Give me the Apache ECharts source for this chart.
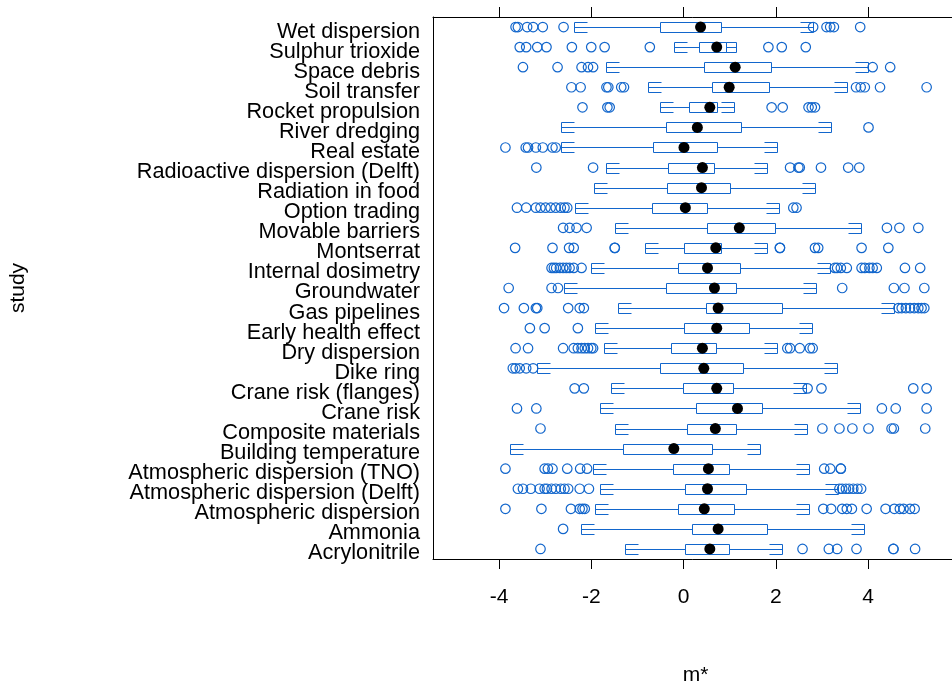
<!DOCTYPE html>
<html>
<head>
<meta charset="utf-8">
<script src="https://cdn.jsdelivr.net/npm/echarts@6/dist/echarts.min.js"></script>
<style>
  html, body { margin: 0; padding: 0; background: #fff; }
  #chart { width: 952px; height: 687px; }
</style>
</head>
<body>
<div id="chart"></div>
<script>
// studies listed top to bottom, as in the picture
const studies = ["Wet dispersion", "Sulphur trioxide", "Space debris", "Soil transfer", "Rocket propulsion",
  "River dredging", "Real estate", "Radioactive dispersion (Delft)", "Radiation in food", "Option trading",
  "Movable barriers", "Montserrat", "Internal dosimetry", "Groundwater", "Gas pipelines", "Early health effect",
  "Dry dispersion", "Dike ring", "Crane risk (flanges)", "Crane risk", "Composite materials",
  "Building temperature", "Atmospheric dispersion (TNO)", "Atmospheric dispersion (Delft)",
  "Atmospheric dispersion", "Ammonia", "Acrylonitrile"];

const whiskerLow = [-2.38, -0.20, -1.67, -0.76, -0.51, -2.66, -2.65, -1.67, -1.94, -2.36, -1.48, -0.84, -2.00, -2.58,
  -1.43, -1.92, -1.72, -3.18, -1.58, -1.80, -1.48, -3.76, -1.96, -1.82, -1.92, -2.23, -1.27];
const q1 = [-0.51, 0.34, 0.45, 0.62, 0.12, -0.38, -0.67, -0.33, -0.35, -0.69, 0.50, 0.01, -0.12, -0.38,
  0.48, 0.01, -0.27, -0.51, -0.01, 0.27, 0.08, -1.31, -0.22, 0.04, -0.12, 0.19, 0.04];
const median = [0.37, 0.72, 1.12, 0.99, 0.57, 0.30, 0.01, 0.41, 0.39, 0.04, 1.21, 0.70, 0.52, 0.67,
  0.75, 0.72, 0.41, 0.44, 0.72, 1.17, 0.69, -0.21, 0.54, 0.52, 0.45, 0.75, 0.57];
const q3 = [0.82, 0.93, 1.90, 1.86, 0.72, 1.24, 0.72, 0.67, 1.01, 0.50, 1.98, 0.82, 1.22, 1.14,
  2.14, 1.42, 0.70, 1.29, 1.08, 1.71, 1.14, 0.62, 0.98, 1.35, 1.09, 1.82, 0.98];
const whiskerHigh = [2.80, 1.14, 3.99, 3.54, 1.10, 3.20, 2.02, 1.82, 2.85, 2.07, 3.85, 1.82, 3.18, 2.87,
  4.57, 2.79, 2.03, 3.32, 2.65, 3.83, 2.67, 1.66, 2.73, 3.34, 2.73, 3.92, 2.14];

const outliers = [
  [-3.64, -3.59, -3.39, -3.26, -3.05, -2.60, 2.81, 3.10, 3.18, 3.26, 3.83],
  [-3.55, -3.41, -3.17, -2.97, -2.42, -2.00, -1.71, -0.73, 1.84, 2.13, 2.65],
  [-3.48, -2.73, -2.21, -2.07, -1.96, 4.10, 4.48],
  [-2.43, -2.23, -1.67, -1.63, -1.35, -1.29, 3.74, 3.84, 3.93, 4.26, 5.27],
  [-2.19, -1.65, -1.60, 1.91, 2.15, 2.71, 2.78, 2.85],
  [4.01],
  [-3.86, -3.42, -3.37, -3.20, -3.05, -2.84, -2.77],
  [-3.19, -1.96, 2.31, 2.49, 2.52, 2.98, 3.57, 3.81],
  [],
  [-3.61, -3.41, -3.20, -3.10, -2.99, -2.88, -2.77, -2.66, -2.58, -2.52, 2.38, 2.45],
  [-2.61, -2.47, -2.32, -2.10, 4.41, 4.68, 5.09],
  [-3.65, -2.84, -2.48, -2.38, -1.49, -1.49, 2.09, 2.09, 2.85, 2.92, 3.86, 4.44],
  [-2.86, -2.81, -2.76, -2.68, -2.61, -2.54, -2.47, -2.38, -2.21, 3.28, 3.33, 3.41, 3.54, 3.86, 3.93, 4.03, 4.10, 4.19, 4.80, 5.13],
  [-3.79, -2.86, -2.72, 3.44, 4.56, 4.79, 5.22],
  [-3.89, -3.46, -3.20, -3.17, -2.50, -2.25, -2.16, 4.66, 4.73, 4.82, 4.91, 5.00, 5.09, 5.16, 5.22],
  [-3.33, -3.01, -2.29],
  [-3.64, -3.37, -2.61, -2.38, -2.29, -2.21, -2.14, -2.07, -2.00, -1.96, 2.25, 2.31, 2.52, 2.74, 2.80],
  [-3.70, -3.64, -3.55, -3.41, -3.26],
  [-2.36, -2.16, 2.69, 2.99, 4.98, 5.27],
  [-3.61, -3.19, 4.30, 4.60, 5.27],
  [-3.10, 3.01, 3.38, 3.66, 4.01, 4.51, 4.56, 5.24],
  [],
  [-3.86, -3.01, -2.94, -2.84, -2.52, -2.24, -2.09, 3.05, 3.18, 3.41, 3.41],
  [-3.59, -3.48, -3.31, -3.12, -3.01, -2.96, -2.86, -2.77, -2.66, -2.58, -2.50, -2.25, -2.05, 3.38, 3.44, 3.52, 3.59, 3.68, 3.77, 3.85],
  [-3.86, -3.08, -2.44, -2.25, -2.19, -2.14, 3.03, 3.20, 3.44, 3.54, 3.65, 3.97, 4.38, 4.57, 4.69, 4.77, 4.91, 5.01],
  [-2.61],
  [-3.10, 2.58, 3.15, 3.33, 3.75, 4.55, 4.55, 5.02]
];

const xTicks = [-4, -2, 0, 2, 4];

const BLUE = '#1266cc';
const FONT = '"Liberation Sans", Arial, Helvetica, sans-serif';

let boxData = studies.map((s, i) => [i, whiskerLow[i], q1[i], median[i], q3[i], whiskerHigh[i]]);
let medianData = studies.map((s, i) => [median[i], i]);
let outlierData = [];
outliers.forEach((row, i) => {
  row.forEach(v => outlierData.push([v, i]));
});

function renderBox(params, api) {
  let cat = api.value(0);
  let y = Math.round(api.coord([0, cat])[1]) + 0.5;
  let h = Math.round(api.size([0, 1])[1] * 0.25);
  let px = v => Math.round(api.coord([api.value(v), cat])[0]) + 0.5;
  let xlo = px(1), xq1 = px(2), xq3 = px(4), xhi = px(5);
  let s = 13; // length of the bracket ends
  let st = { stroke: BLUE, lineWidth: 1, fill: null };
  return {
    type: 'group',
    children: [
      { type: 'line', shape: { x1: xlo, y1: y, x2: xq1, y2: y }, style: st },
      { type: 'line', shape: { x1: xq3, y1: y, x2: xhi, y2: y }, style: st },
      { type: 'polyline', shape: { points: [[xlo + s, y - h], [xlo, y - h], [xlo, y + h], [xlo + s, y + h]] }, style: st },
      { type: 'polyline', shape: { points: [[xhi - s, y - h], [xhi, y - h], [xhi, y + h], [xhi - s, y + h]] }, style: st },
      { type: 'rect', shape: { x: xq1, y: y - h, width: xq3 - xq1, height: 2 * h },
        style: { stroke: BLUE, lineWidth: 1, fill: '#fff' } }
    ]
  };
}

let mychart = echarts.init(document.getElementById('chart'), null, { renderer: 'canvas' });
let option = {
  animation: false,
  backgroundColor: '#fff',
  textStyle: { fontFamily: FONT },
  grid: { left: 433, right: -6, top: 17, bottom: 128, containLabel: false, outerBoundsMode: 'none' },
  xAxis: [{
    type: 'value',
    position: 'bottom',
    min: -5.43,
    max: 5.95,
    name: 'm*',
    nameLocation: 'middle',
    nameGap: 106,
    nameTextStyle: { color: '#000', fontSize: 21, fontFamily: FONT },
    splitLine: { show: false },
    axisLine: { show: true, onZero: false, lineStyle: { color: '#000', width: 1 } },
    axisTick: { show: true, length: 10, customValues: xTicks, lineStyle: { color: '#000' } },
    axisLabel: { show: true, customValues: xTicks, margin: 28, color: '#000', fontSize: 21, fontFamily: FONT }
  }, {
    type: 'value',
    position: 'top',
    min: -5.43,
    max: 5.95,
    splitLine: { show: false },
    axisLine: { show: true, onZero: false, lineStyle: { color: '#000', width: 1 } },
    axisTick: { show: true, length: 10, customValues: xTicks, lineStyle: { color: '#000' } },
    axisLabel: { show: false }
  }],
  yAxis: {
    type: 'category',
    data: studies,
    inverse: true,
    position: 'left',
    name: 'study',
    nameLocation: 'middle',
    nameGap: 404,
    nameTextStyle: { color: '#000', fontSize: 21, fontFamily: FONT },
    axisLine: { show: true, onZero: false, lineStyle: { color: '#000', width: 1 } },
    axisTick: { show: false },
    splitLine: { show: false },
    axisLabel: { margin: 13, color: '#000', fontSize: 21.7, fontFamily: FONT, interval: 0,
      verticalAlign: 'top', lineHeight: 9 }
  },
  series: [{
    type: 'custom',
    name: 'box',
    renderItem: renderBox,
    encode: { x: [1, 2, 3, 4, 5], y: 0 },
    data: boxData,
    z: 2
  }, {
    type: 'scatter',
    name: 'outliers',
    data: outlierData,
    symbol: 'circle',
    symbolSize: 9.5,
    itemStyle: { color: 'rgba(0,0,0,0)', borderColor: BLUE, borderWidth: 1.2, opacity: 1 },
    z: 3
  }, {
    type: 'scatter',
    name: 'median',
    data: medianData,
    symbol: 'circle',
    symbolSize: 11,
    itemStyle: { color: '#000', opacity: 1 },
    z: 4
  }]
};

mychart.setOption(option);
</script>
</body>
</html>
